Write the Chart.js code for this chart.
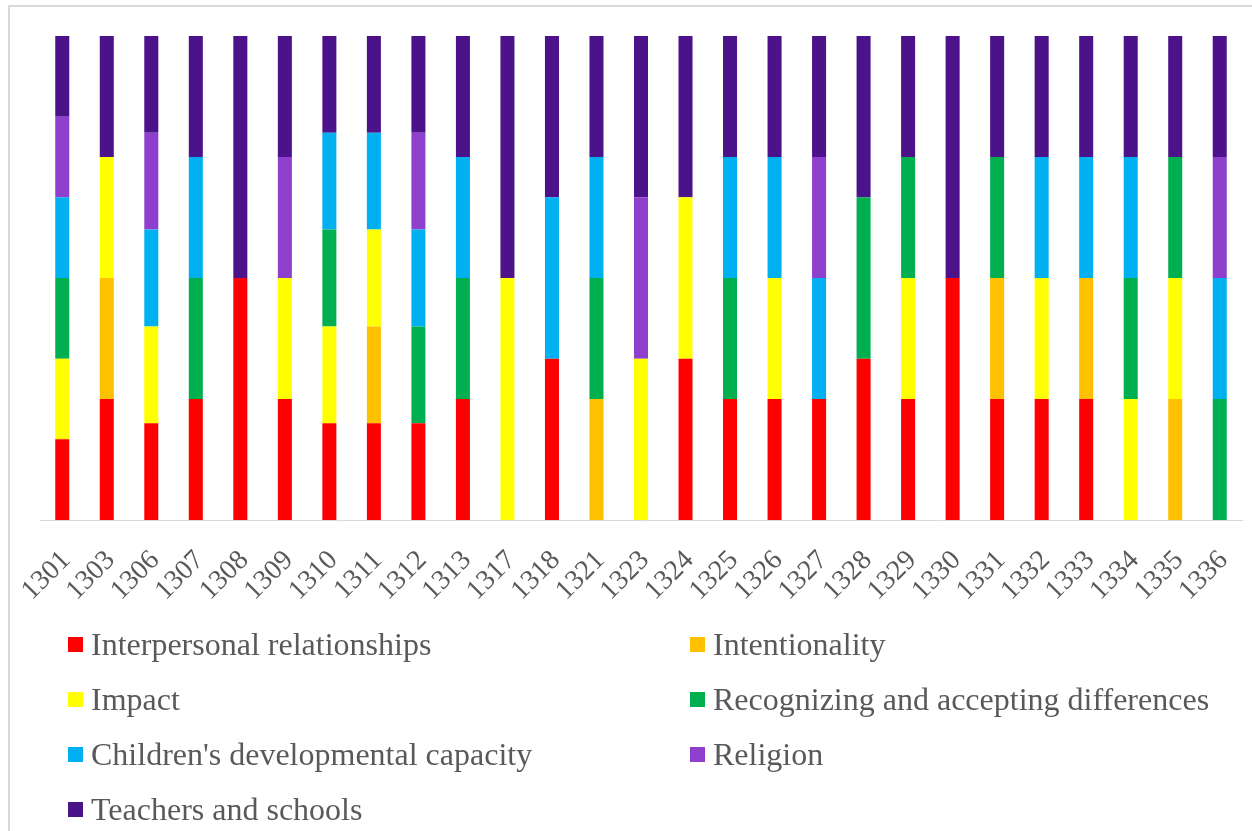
<!DOCTYPE html>
<html>
<head>
<meta charset="utf-8">
<script src="https://cdn.jsdelivr.net/npm/chart.js@4/dist/chart.umd.min.js"></script>
<style>
  html, body { margin: 0; padding: 0; background: #ffffff; }
  body { width: 1252px; height: 831px; position: relative; overflow: hidden; }
  #frame {
    position: absolute; left: 8px; top: 5px; width: 1400px; height: 1000px;
    border-left: 2px solid #d9d9d9; border-top: 2px solid #d9d9d9;
  }
  #wrap { position: absolute; left: 0; top: 0; width: 1252px; height: 625px; }
  #legend {
    position: absolute; left: 68px; top: 617px;
    display: grid; grid-template-columns: 622px 500px; grid-auto-rows: 55px;
    font-family: "Liberation Serif", "Times New Roman", serif; font-size: 32px; color: #595959;
  }
  .item { display: flex; align-items: center; white-space: nowrap; }
  .box { width: 15px; height: 15px; margin-right: 8px; flex: none; }
</style>
</head>
<body>
<div id="frame"></div>
<div id="wrap"><canvas id="chart"></canvas></div>
<div id="legend"></div>
<script>
// Interview codes along the x axis
const categories = ['1301','1303','1306','1307','1308','1309','1310','1311','1312','1313','1317','1318','1321','1323','1324','1325','1326','1327','1328','1329','1330','1331','1332','1333','1334','1335','1336'];

// Theme mentions per interview (stacked to 100%)
const interpersonal = [1,1,1,1,1,1,1,1,1,1,0,1,0,0,1,1,1,1,1,1,1,1,1,1,0,0,0];
const intentionality = [0,1,0,0,0,0,0,1,0,0,0,0,1,0,0,0,0,0,0,0,0,1,0,1,0,1,0];
const impact = [1,1,1,0,0,1,1,1,0,0,1,0,0,1,1,0,1,0,0,1,0,0,1,0,1,1,0];
const recognizing = [1,0,0,1,0,0,1,0,1,1,0,0,1,0,0,1,0,0,1,1,0,1,0,0,1,1,1];
const developmental = [1,0,1,1,0,0,1,1,1,1,0,1,1,0,0,1,1,1,0,0,0,0,1,1,1,0,1];
const religion = [1,0,1,0,0,1,0,0,1,0,0,0,0,1,0,0,0,1,0,0,0,0,0,0,0,0,1];
const teachers = [1,1,1,1,1,1,1,1,1,1,1,1,1,1,1,1,1,1,1,1,1,1,1,1,1,1,1];

const seriesNames = ['Interpersonal relationships','Intentionality','Impact','Recognizing and accepting differences',"Children's developmental capacity",'Religion','Teachers and schools'];
const seriesValues = [interpersonal, intentionality, impact, recognizing, developmental, religion, teachers];
const seriesColors = ['#FF0000','#FFC000','#FFFF00','#00B050','#00B0F0','#8E40CC','#4B1289'];

const totals = categories.map((_, i) => seriesValues.reduce((s, arr) => s + arr[i], 0));

const datasets = seriesNames.map((name, k) => ({
  label: name,
  data: seriesValues[k].map((v, i) => v / totals[i] * 100),
  backgroundColor: seriesColors[k],
  borderWidth: 0,
  categoryPercentage: 1,
  barPercentage: 0.315
}));

const tickFont = { family: '"Liberation Serif", "Times New Roman", serif', size: 28 };

const chart = new Chart(document.getElementById('chart'), {
  type: 'bar',
  data: { labels: categories, datasets },
  options: {
    responsive: true,
    maintainAspectRatio: false,
    animation: false,
    layout: { padding: { left: 40, right: 10, top: 36, bottom: 0 } },
    plugins: { legend: { display: false }, tooltip: { enabled: false } },
    scales: {
      x: {
        stacked: true,
        grid: { display: false },
        border: { display: true, color: '#d9d9d9', width: 1 },
        ticks: { color: '#595959', font: tickFont, minRotation: 45, maxRotation: 45, padding: 16, labelOffset: 4, autoSkip: false },
        afterFit: (scale) => {
          scale.height = 105;
          scale.paddingLeft = 0;
          scale.paddingRight = 0;
        }
      },
      y: {
        stacked: true,
        display: false,
        min: 0,
        max: 100
      }
    }
  }
});

// Two-column legend below the plot
const legendEl = document.getElementById('legend');
chart.data.datasets.forEach(ds => {
  const item = document.createElement('div');
  item.className = 'item';
  const box = document.createElement('span');
  box.className = 'box';
  box.style.background = ds.backgroundColor;
  const txt = document.createElement('span');
  txt.textContent = ds.label;
  item.appendChild(box);
  item.appendChild(txt);
  legendEl.appendChild(item);
});
</script>
</body>
</html>
